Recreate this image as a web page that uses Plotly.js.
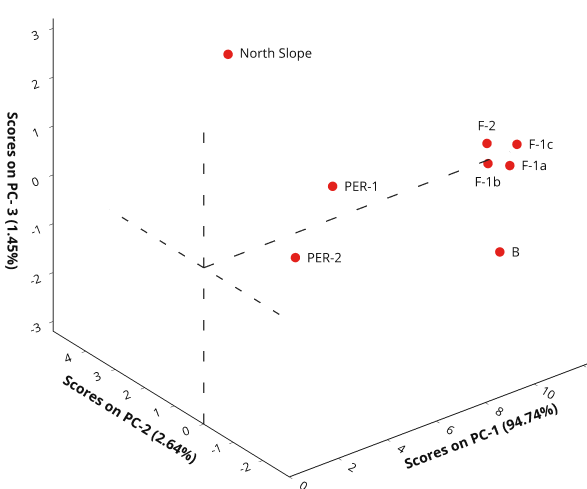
<!DOCTYPE html>
<html><head><meta charset="utf-8">
<script src="https://cdn.plot.ly/plotly-3.0.1.min.js"></script>
<style>html,body{margin:0;padding:0;background:#fff}#chart{width:587px;height:489px}</style>
</head><body><div id="msg" style="position:absolute;top:0;left:0;font:11px monospace;z-index:10"></div><div id="chart"></div>
<script>
window.onerror = function(m){ document.getElementById('msg').textContent += ' ERR:' + m; };
// Sample labels and PCA scores
const samples = ["North Slope","PER-1","PER-2","F-2","F-1c","F-1b","F-1a","B"];
const pc1 = [4.0, 5.86, 4.10, 11.80, 12.30, 11.60, 12.13, 11.48];
const pc2 = [2.5, 0.5, 0.3, 0.2, -0.4, 0.0, -0.3, -0.5];
const pc3 = [2.68, 0.37, -0.68, 0.23, 0.34, -0.07, -0.10, -1.67];
const labelPos = ["middle right","middle right","middle right","top center","middle right","bottom center","middle right","middle right"];

// Reference (origin) dashed lines
const refX = [[0, 0], [0, 0], [0, 12.5]];
const refY = [[0, 0], [-3.2, 3.2], [0, 0]];
const refZ = [[-3.2, 3.2], [0, 0], [0, 0]];

// Axis ranges / ticks
const xRange = [0, 13], yRange = [-2.9, 5.1], zRange = [-3.2, 3.2];
const xTicks = [0,2,4,6,8,10,12], yTicks = [-2,-1,0,1,2,3,4], zTicks = [-3,-2,-1,0,1,2,3];

const traces = [];
for (let i = 0; i < refX.length; i++) {
  traces.push({type:'scatter3d', mode:'lines', x:refX[i], y:refY[i], z:refZ[i],
    line:{color:'#222', width:2.5, dash:'longdash'}, hoverinfo:'skip', showlegend:false});
}
traces.push({type:'scatter3d', mode:'markers+text', x:pc1, y:pc2, z:pc3, text:samples,
  textposition:labelPos, textfont:{family:'Open Sans', size:13, color:'#111'},
  marker:{size:5.5, color:'#e3211c', line:{width:0}}, hoverinfo:'text', showlegend:false});

function ax(title, range, ticks) {
  return {title:{text:title, font:{family:'Open Sans', size:14, color:'#111', weight:'bold'}},
    range:range, tickvals:ticks, ticktext:ticks.map(String), tickfont:{family:'Open Sans', size:12, color:'#111'},
    showbackground:false, showgrid:false, zeroline:false, showline:true, linecolor:'#111', linewidth:2,
    ticks:'outside', ticklen:5, tickcolor:'#111', showspikes:false, autorange:false};
}
const dir = {x:-0.540, y:-0.689, z:0.484};
const ctr = {x:-0.1884, y:0.0049, z:-0.205};
const layout = {
  width:587, height:489, margin:{l:0,r:0,t:0,b:0}, paper_bgcolor:'#fff', showlegend:false,
  scene:{
    domain:{x:[0,1], y:[0,1]},
    xaxis:ax('Scores on PC-1 (94.74%)', xRange, xTicks),
    yaxis:ax('Scores on PC-2 (2.64%)', yRange, yTicks),
    zaxis:ax('Scores on PC- 3 (1.45%)', zRange, zTicks),
    aspectmode:'manual', aspectratio:{x:1.655, y:1.565, z:1.461},
    camera:{eye:{x:ctr.x+dir.x, y:ctr.y+dir.y, z:ctr.z+dir.z}, up:{x:0,y:0,z:1}, center:ctr,
      projection:{type:'orthographic'}}
  }
};
try {
Plotly.newPlot('chart', traces, layout, {displayModeBar:false}).catch(e=>{document.getElementById('msg').textContent += ' P:' + e;});
} catch(e) { document.getElementById('msg').textContent += ' E:' + e; }
</script></body></html>
